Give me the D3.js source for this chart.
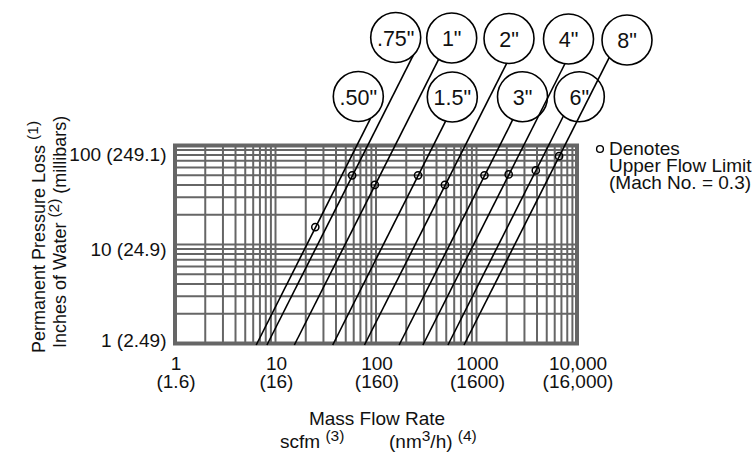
<!DOCTYPE html>
<html>
<head>
<meta charset="utf-8">
<script src="https://cdn.jsdelivr.net/npm/d3@7"></script>
<style>
  html, body { margin: 0; padding: 0; background: #fff; }
  svg { display: block; }
  text { font-family: "Liberation Sans", Arial, Helvetica, sans-serif; fill: #111; }
</style>
</head>
<body>
<div id="chart"></div>
<script>
// ---------- DATA ----------
const xTicks = [1, 10, 100, 1000, 10000];
const xTickLabels = ["1", "10", "100", "1000", "10,000"];
const xTickMetric = ["(1.6)", "(16)", "(160)", "(1600)", "(16,000)"];
const yTicks = [1, 10, 100];
const yTickLabels = ["1 (2.49)", "10 (24.9)", "100 (249.1)"];

const sizes = ['.50"', '.75"', '1"', '1.5"', '2"', '3"', '4"', '6"', '8"'];
// flow (scfm) giving 1 inch of water loss, and 100 inches of water loss
const flowAt1 = [6.43, 8.22, 15.4, 37.1, 76.8, 170, 293, 520, 751];
const flowAt100 = [64.3, 82.2, 154, 371, 768, 1700, 2930, 5200, 7510];
// upper flow limit (Mach 0.3)
const limitFlow = [24.9, 57.9, 97.3, 262, 485, 1200, 2090, 3890, 6630];
const limitLoss = [15, 50, 40, 50, 40, 50, 51, 56, 78];

// ---------- LAYOUT ----------
const W = 756, H = 456;
const labelCenters = [[358.3, 96.5], [395.7, 37.5], [451.7, 38], [452.3, 97], [509, 38.5],
                      [522.5, 96.7], [568.5, 39], [579.3, 96.7], [627, 40]];
const labelR = 25;
const yLabelOffset = [-3.5, 4.5, 9];

const svg = d3.select("#chart").append("svg").attr("width", W).attr("height", H);
svg.append("rect").attr("width", W).attr("height", H).attr("fill", "#fff");

const x = d3.scaleLog().domain([1, 10000]).range([175, 577]);
const y = d3.scaleLog().domain([1, 100]).range([343.5, 145.5]);

// grid
const gridX = [];
for (let k = 0; k < 4; k++) for (let m = 1; m < 10; m++) gridX.push(m * Math.pow(10, k));
gridX.push(10000);
const gridY = [];
for (let k = 0; k < 2; k++) for (let m = 1; m < 10; m++) gridY.push(m * Math.pow(10, k));
gridY.push(100);

const grid = svg.append("g").attr("stroke", "#666").attr("stroke-width", 2);
grid.selectAll("line.v").data(gridX).join("line").attr("class", "v")
  .attr("x1", d => x(d)).attr("x2", d => x(d)).attr("y1", y(1)).attr("y2", y(100));
grid.selectAll("line.h").data(gridY).join("line").attr("class", "h")
  .attr("y1", d => y(d)).attr("y2", d => y(d)).attr("x1", x(1)).attr("x2", x(10000));

svg.append("rect").attr("x", x(1)).attr("y", y(100))
  .attr("width", x(10000) - x(1)).attr("height", y(1) - y(100))
  .attr("fill", "none").attr("stroke", "#666").attr("stroke-width", 4);

// x tick labels
const xl = svg.append("g").attr("font-size", 19).attr("text-anchor", "middle");
xl.selectAll("text.a").data(xTicks).join("text").attr("class", "a")
  .attr("x", d => x(d) + 1).attr("y", 369.5).text((d, i) => xTickLabels[i]);
xl.selectAll("text.b").data(xTicks).join("text").attr("class", "b")
  .attr("x", d => x(d) + 1).attr("y", 387.5).text((d, i) => xTickMetric[i]);

// y tick labels
svg.append("g").attr("font-size", 19).attr("text-anchor", "end")
  .selectAll("text").data(yTicks).join("text")
  .attr("x", 166.5).attr("y", (d, i) => y(d) + yLabelOffset[i])
  .attr("dominant-baseline", "central").text((d, i) => yTickLabels[i]);

// pipe size lines
const lines = svg.append("g").attr("stroke", "#000").attr("stroke-width", 1.6).attr("fill", "none");
sizes.forEach((s, i) => {
  const p1 = [x(flowAt1[i]), y(1)];
  const p2 = [x(flowAt100[i]), y(100)];
  let dx = p2[0] - p1[0], dy = p2[1] - p1[1];
  const len = Math.hypot(dx, dy); dx /= len; dy /= len;
  const c = labelCenters[i];
  const ox = p1[0] - c[0], oy = p1[1] - c[1];
  const b = dx * ox + dy * oy;
  const cc = ox * ox + oy * oy - labelR * labelR;
  const disc = b * b - cc;
  const t = disc >= 0 ? -b - Math.sqrt(disc) : -b;
  lines.append("line")
    .attr("x1", p1[0]).attr("y1", p1[1] + 1.5)
    .attr("x2", p1[0] + t * dx).attr("y2", p1[1] + t * dy);
});

// label circles
const lab = svg.append("g");
lab.selectAll("circle").data(sizes).join("circle")
  .attr("cx", (d, i) => labelCenters[i][0]).attr("cy", (d, i) => labelCenters[i][1])
  .attr("r", labelR).attr("fill", "none").attr("stroke", "#000").attr("stroke-width", 1.6);
lab.selectAll("text").data(sizes).join("text")
  .attr("x", (d, i) => labelCenters[i][0]).attr("y", (d, i) => labelCenters[i][1] + 1)
  .attr("text-anchor", "middle").attr("dominant-baseline", "central")
  .attr("font-size", 21.5).text(d => d);

// upper flow limit markers
svg.append("g").selectAll("circle").data(limitFlow).join("circle")
  .attr("cx", d => x(d)).attr("cy", (d, i) => y(limitLoss[i]))
  .attr("r", 3.6).attr("fill", "none").attr("stroke", "#000").attr("stroke-width", 1.5);

// legend
svg.append("circle").attr("cx", 600).attr("cy", 149).attr("r", 3.4)
  .attr("fill", "none").attr("stroke", "#000").attr("stroke-width", 1.4);
const leg = svg.append("g").attr("font-size", 19);
["Denotes", "Upper Flow Limit", "(Mach No. = 0.3)"].forEach((t, i) => {
  leg.append("text").attr("x", 609).attr("y", 155 + i * 17).text(t);
});

// x axis title
svg.append("text").attr("x", 377).attr("y", 425).attr("text-anchor", "middle")
  .attr("font-size", 19).text("Mass Flow Rate");
const u1 = svg.append("text").attr("x", 280).attr("y", 448).attr("font-size", 19);
u1.append("tspan").text("scfm ");
u1.append("tspan").attr("font-size", 15.5).attr("dy", -7).text("(3)");
const u2 = svg.append("text").attr("x", 389).attr("y", 448).attr("font-size", 19);
u2.append("tspan").text("(nm");
u2.append("tspan").attr("font-size", 15.5).attr("dy", -7).text("3");
u2.append("tspan").attr("dy", 7).text("/h) ");
u2.append("tspan").attr("font-size", 15.5).attr("dy", -7).text("(4)");

// y axis title (rotated)
const t1 = svg.append("text").attr("transform", "rotate(-90)")
  .attr("x", -353).attr("y", 45).attr("font-size", 18);
t1.append("tspan").text("Permanent Pressure Loss ");
t1.append("tspan").attr("font-size", 15.5).attr("dy", -7).text("(1)");
const t2 = svg.append("text").attr("transform", "rotate(-90)")
  .attr("x", -348).attr("y", 66).attr("font-size", 18);
t2.append("tspan").text("Inches of Water ");
t2.append("tspan").attr("font-size", 15.5).attr("dy", -7).text("(2)");
t2.append("tspan").attr("dy", 7).text(" (millibars)");
</script>
</body>
</html>
